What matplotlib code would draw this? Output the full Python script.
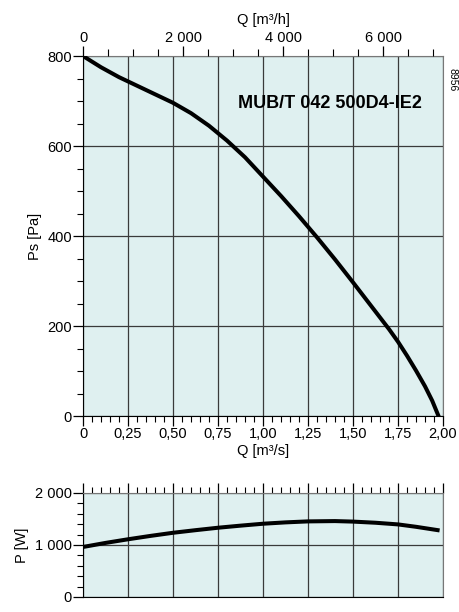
import matplotlib
matplotlib.use('Agg')
import matplotlib.pyplot as plt
from matplotlib.ticker import MultipleLocator, FuncFormatter

plt.rcParams['font.family'] = ['Liberation Sans', 'DejaVu Sans']

# fan curve
q_ps = [0, 0.1, 0.2, 0.3, 0.4, 0.5, 0.6, 0.7, 0.8, 0.9, 1.0, 1.1, 1.2, 1.3,
        1.4, 1.5, 1.6, 1.7, 1.75, 1.8, 1.85, 1.9, 1.94, 1.975]
ps = [800, 775, 753, 734, 715, 696, 673, 645, 612, 575, 532, 489, 444, 397,
      348, 297, 245, 193, 165, 134, 101, 66, 34, 0]

# power curve
q_p = [0, 0.125, 0.25, 0.375, 0.5, 0.625, 0.75, 0.875, 1.0, 1.125, 1.25, 1.4,
       1.5, 1.625, 1.75, 1.85, 1.97]
pw = [962, 1040, 1110, 1175, 1235, 1285, 1332, 1372, 1409, 1435, 1454, 1460,
      1450, 1428, 1396, 1350, 1286]

title = 'MUB/T 042 500D4-IE2'
code = '8956'

bg = '#dff0f0'
gridc = '#3a3a3a'

def comma(v, pos):
    if abs(v) < 1e-9:
        return '0'
    return ('%.2f' % v).replace('.', ',')

def spaced(v, pos):
    return '{:,}'.format(int(round(v))).replace(',', ' ')

fig = plt.figure(figsize=(4.6, 6.12), dpi=100)

ax = fig.add_axes([83/460, 1-416/612, 360/460, 360/612])
ax.set_facecolor(bg)
ax.plot(q_ps, ps, color='black', lw=2.9, solid_joinstyle='round', zorder=3)
ax.set_xlim(0, 2.0)
ax.set_ylim(0, 800)
ax.xaxis.set_major_locator(MultipleLocator(0.25))
ax.xaxis.set_minor_locator(MultipleLocator(0.05))
ax.yaxis.set_major_locator(MultipleLocator(200))
ax.yaxis.set_minor_locator(MultipleLocator(50))
ax.xaxis.set_major_formatter(FuncFormatter(comma))
ax.grid(True, which='major', color=gridc, lw=0.9)
ax.tick_params(which='major', length=7, width=0.9, labelsize=10.5, pad=1)
ax.tick_params(which='minor', length=4, width=0.8)
ax.set_xlabel('Q [m³/s]', fontsize=10.5, labelpad=2)
ax.set_ylabel('Ps [Pa]', fontsize=10.5, labelpad=4)
for s in ['top', 'right']:
    ax.spines[s].set_color('#777777')
ax.text(0.94, 0.867, title, transform=ax.transAxes, ha='right', va='center',
        fontsize=13, fontweight='bold')

top = ax.twiny()
top.set_xlim(0, 2.0 * 3600)
top.xaxis.set_major_locator(MultipleLocator(2000))
top.xaxis.set_minor_locator(MultipleLocator(500))
top.xaxis.set_major_formatter(FuncFormatter(spaced))
top.tick_params(which='major', length=7, width=0.9, labelsize=10.5, pad=1)
top.tick_params(which='minor', length=5, width=0.8)
top.set_xlabel('Q [m³/h]', fontsize=10.5, labelpad=5)
for s in top.spines.values():
    s.set_visible(False)

fig.text(453/460, 1-80/612, code, rotation=-90, fontsize=7.5, ha='center', va='center')

ax2 = fig.add_axes([83/460, 1-597/612, 360/460, 104/612])
ax2.set_facecolor(bg)
ax2.plot(q_p, pw, color='black', lw=2.9, solid_joinstyle='round', zorder=3)
ax2.set_xlim(0, 2.0)
ax2.set_ylim(0, 2000)
ax2.xaxis.set_major_locator(MultipleLocator(0.25))
ax2.xaxis.set_minor_locator(MultipleLocator(0.05))
ax2.yaxis.set_major_locator(MultipleLocator(1000))
ax2.yaxis.set_minor_locator(MultipleLocator(200))
ax2.yaxis.set_major_formatter(FuncFormatter(spaced))
ax2.xaxis.tick_top()
ax2.tick_params(axis='x', which='both', labeltop=False, labelbottom=False)
ax2.grid(True, which='major', color=gridc, lw=0.9)
ax2.tick_params(which='major', length=7, width=0.9, labelsize=10.5, pad=1)
ax2.tick_params(which='minor', length=4, width=0.8)
ax2.set_ylabel('P [W]', fontsize=10.5, labelpad=4)
for s in ['top', 'right']:
    ax2.spines[s].set_color('#777777')

fig.savefig('out.png', dpi=100)
